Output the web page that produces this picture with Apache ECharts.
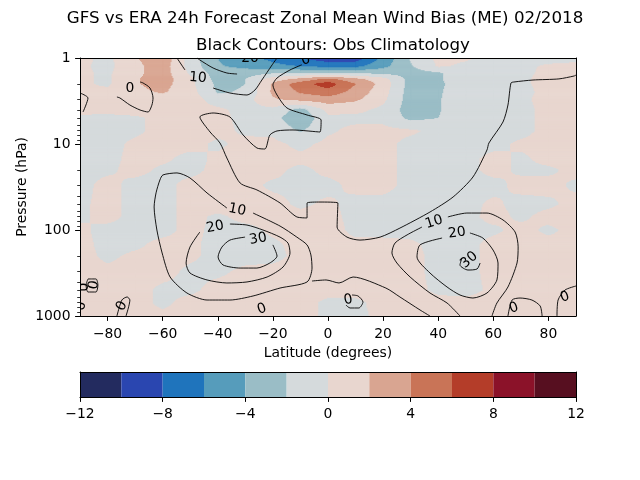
<!DOCTYPE html>
<html><head><meta charset="utf-8">
<script src="https://cdn.jsdelivr.net/npm/echarts@6/dist/echarts.min.js"></script>
<style>html,body{margin:0;padding:0;background:#fff}#c{width:640px;height:480px}</style>
</head><body><div id="c"></div>
<script>
// ---------- grid of bias values (m/s), latitude columns x pressure rows ----------
const lats = [-90,-80,-70,-60,-50,-40,-30,-20,-10,0,10,20,30,40,50,60,70,80,90];
const levels = [1,1.25,1.5,1.75,2,2.5,3,4,5,7,10,15,20,30,50,70,100,150,200,300,500,700,1000];
const b1    = [0.5,-0.5,1.8,3.5,-1,-4,-5.5,-6.5,-7.8,-9.5,-9.2,-5.5,-1.8,0.5,0.2,-0.5,-0.5,-0.5,-0.3];
const b1_25 = [0.3,-0.5,1.5,3,-0.8,-3.8,-4.5,-5.5,-6,-6.5,-6.5,-4.5,-2.2,0.2,-0.3,-0.5,-0.3,0.2,0.3];
const b1_5  = [0.3,-0.3,1.5,3,-0.3,-3,-3,-2.2,-2,-2.1,-2.1,-2.5,-2.8,-2.3,-0.5,-0.5,-0.3,0.3,0.3];
const b1_75 = [0.3,-0.3,1.8,3,0.5,-2.8,-2,1,2.5,4.5,2.5,0.8,-2.8,-2.3,-0.5,-0.5,-0.3,0.5,0.5];
const b2    = [0.3,-0.3,1.8,2.8,0.5,-2.5,-2,2.3,5.2,7,4,1.2,-2.8,-2.5,-0.5,-0.5,-0.3,0.5,0.5];
const b2_5  = [0.5,0.5,1.5,2.2,0.8,-2.2,-1.8,2.4,4.2,5.2,3.2,0.8,-3,-2.3,-0.5,-0.5,-0.5,0.5,0.5];
const b3    = [0.5,0.5,0.8,1,0.8,-0.8,-0.8,1.8,2.8,3.2,2.4,0.5,-3,-2.2,-0.5,-0.5,-0.3,0.5,0.5];
const b4    = [0.5,0.5,0.8,0.8,0.5,0.3,-0.5,-0.5,-2.8,0.5,0.5,-0.5,-3,-2.2,-0.5,-0.5,-0.5,0.5,0.5];
const b5    = [-0.3,-0.5,-0.3,0.5,0.5,0.5,-0.5,-1.2,-3.8,-0.3,-0.5,-0.5,-2.5,-2,-0.5,-0.5,-0.5,0.5,0.3];
const b7    = [-0.5,-0.5,-0.3,0.5,0.5,0.5,-0.3,-0.5,-2.2,-0.3,0.5,0.5,0.3,-0.5,-0.5,-0.5,-0.5,0.5,0.5];
const b10   = [-0.5,-0.5,0.3,0.5,0.5,-0.3,0.5,0.5,-0.5,0.5,0.5,0.5,-0.5,-0.5,-0.5,-0.5,0.3,0.5,0.5];
const b15   = [-0.5,-0.5,0.5,0.3,-0.5,0.3,0.8,0.8,0.5,0.8,0.8,0.5,-0.5,-0.5,-0.5,0.5,-0.3,0.5,0.5];
const b20   = [-0.5,-0.3,0.5,-0.3,-0.5,0.5,0.8,0.5,-0.5,0.5,0.8,0.5,-0.5,-0.5,-0.5,0.5,-0.3,-0.3,0.5];
const b30   = [-0.5,0.5,-0.5,-0.5,0.5,0.5,0.5,-0.3,-0.3,-0.5,0.5,0.5,-0.5,-0.5,-0.5,-0.5,0.5,0.5,-0.3];
const b50   = [-0.3,0.5,-0.5,-0.5,0.5,0.8,0.5,0.5,-0.3,0.3,-0.5,-0.5,-0.5,-0.5,-0.5,0.3,-0.5,-0.3,0.5];
const b70   = [-0.3,0.5,-0.5,-0.5,0.5,-0.3,0.5,0.5,0.5,0.5,-0.5,-0.5,-0.5,-0.5,-0.5,0.5,-0.3,0.5,0.5];
const b100  = [0.3,-0.5,-0.5,-0.5,0.5,-0.5,-0.5,0.3,0.5,0.8,-0.5,-0.5,-0.5,-0.5,-0.5,-0.3,0.5,-0.3,0.5];
const b150  = [0.5,-0.5,-0.3,0.5,0.3,-0.5,-0.5,-0.3,0.5,0.8,0.5,0.5,0.3,-0.5,-0.5,0.5,0.5,0.5,0.3];
const b200  = [0.5,-0.3,0.3,0.5,0.3,-0.5,-0.5,-0.5,0.5,0.8,0.5,0.5,0.5,-0.5,-0.5,0.5,0.5,0.5,0.5];
const b300  = [0.5,0.3,0.5,0.5,-0.3,-0.3,0.3,0.5,0.5,0.5,0.5,0.5,0.5,-0.5,-0.5,0.5,0.5,0.3,0.5];
const b500  = [0.5,0.5,0.5,-0.3,-0.3,0.5,0.5,0.5,0.5,0.5,0.5,0.5,0.5,-0.3,-0.5,0.3,0.5,0.5,0.5];
const b700  = [0.5,0.5,0.5,-0.3,0.5,0.5,0.5,0.5,0.5,-0.3,-0.3,0.5,0.5,0.5,0.5,0.5,0.5,0.5,0.5];
const b1000 = [0.5,0.5,0.5,0.3,0.5,0.5,0.5,0.5,0.5,-0.3,-0.3,0.3,0.5,0.5,0.5,0.5,0.5,0.5,0.5];
const biasRows = [b1,b1_25,b1_5,b1_75,b2,b2_5,b3,b4,b5,b7,b10,b15,b20,b30,b50,b70,b100,b150,b200,b300,b500,b700,b1000];

// ---------- colour levels ----------
const cbLevels = [-12,-10,-8,-6,-4,-2,0,2,4,6,8,10,12];
const cbColors = ['#232b5f','#2a46b0','#1f74bc','#569cbb','#9abdc6','#d5dadc','#e8d6cf','#d9a591','#c97457','#b43d29','#8b1229','#570f20'];
const cbTicks = [-12,-8,-4,0,4,8,12];
const latTicks = [-80,-60,-40,-20,0,20,40,60,80];
const pMajor = [1,10,100,1000];
const pMinor = [2,3,4,5,6,7,8,9,20,30,40,50,60,70,80,90,200,300,400,500,600,700,800,900];

// ---------- climatology contours [lat, hPa] ----------
const cSH10 = [[-27.2,63.5],[-17.4,90],[-11.3,121],[-7.6,149],[-6.2,195],[-5.8,277],[-7.6,402],[-17.4,473],[-27.2,585],[-35.6,652],[-43.9,652],[-51.2,540],[-57.3,352],[-60.2,185],[-62.1,100],[-63.1,54],[-62.4,37],[-61,26.2],[-59.9,22.9],[-54.8,21.7],[-50.1,24.8],[-43.9,37.1],[-36.7,55.5]];
const cSH20 = [[-35.6,85.2],[-29.4,87.6],[-23.6,100],[-17.4,121],[-14.5,142],[-13.8,185],[-16.3,269],[-22.1,352],[-29.4,402],[-36.7,413],[-43.9,381],[-50.1,316],[-51.5,242],[-50.1,158],[-46.5,105.5]];
const cSH30 = [[-20,149],[-18.5,201],[-21.1,242],[-25.8,277],[-31.9,277],[-38.1,255],[-39.9,206],[-38.5,158],[-35.6,131],[-30.1,121]];
const cNH10a = [[43.5,70.5],[50.4,63.5],[57.7,63.5],[63.5,76.4],[67.9,105.5],[69,157],[68.6,242],[65.3,460],[61.3,706],[59.5,1000]];
const cNH10b = [[34.1,92.4],[28.7,114],[24.3,142],[23.2,185],[25,242],[29.8,352],[37,540],[43.2,706],[47.9,1000]];
const cNH20 = [[51.5,108.3],[56.2,124],[59.9,171],[61.7,242],[61.3,381],[57.7,540],[52.6,618],[47.9,570],[43.2,460],[37,316],[32.3,206],[33.4,149],[41.4,124]];
const cNH30 = [[48.6,212],[47.9,255],[50.8,292],[54.1,284],[55.2,242]];
const cTrop = [[-5.8,392],[-0.7,381],[4,413],[9.1,352],[21,473],[26.1,601],[33.4,851],[37,1000]];
const cZero = [[-9.5,1.2],[-13.8,1.379],[-18.5,1.709],[-20,2.061],[-18.5,2.693],[-14.9,3.81],[-7.6,4.6],[-2.5,5.26],[-2.9,7.25],[-12.7,6.87],[-18.5,7.05],[-21.1,7.86],[-22.9,11.43],[-25.8,11.13],[-30.8,7.86],[-35.6,4.853],[-41.7,4.36],[-46.5,4.853],[-42.8,7.25],[-39.2,9.73],[-36.7,14.55],[-31.9,28.4],[-25.8,34.2],[-17.4,48.5],[-11.3,70.5],[-7.6,72.4],[-7.6,48.5],[-2.9,47.3],[3.6,48.5],[3.3,92.4],[6.9,121],[11.6,131],[18.9,121],[26.1,95],[37,61.8],[45.4,41.3],[52.6,24.2],[57.7,11.73],[58.4,9.73],[63.5,5.55],[65.3,3.52],[66.4,1.953],[67.5,1.901],[74.4,1.803],[83.8,1.75],[89.3,1.619],[90,1.58]];
const c10topA = [[-41.7,2.233],[-35.6,2.552],[-29.4,2.693],[-26.5,2.356],[-24,1.803],[-20.3,1.206],[-18.5,1]];
const c10topB = [[-51.9,1.379],[-54.8,1]];
const c20top = [[-47.5,1],[-46.5,1.055],[-41.7,1.307],[-36.7,1.494],[-33,1.535]];
const c0left = [[-76.6,2.841],[-75.5,2.917],[-71.9,3.52],[-68.2,4.024],[-65.3,4.246],[-63.9,3.52],[-63.5,2.917],[-64.6,2.233],[-67.1,1.953],[-68.2,1.901]];
const cEdge = [[-90,2.552],[-87.1,2.917],[-88.9,4.246]];
const cL1 = [[-87.1,371],[-84.2,371],[-83.5,436],[-84.2,526],[-87.1,526],[-87.8,436],[-87.1,371]];
const cL3 = [[-76.6,1000],[-74.8,652],[-72.9,601],[-71.9,652],[-73.3,1000]];
const cL5 = [[8.7,570],[10.9,585],[12.7,687],[11.2,807],[8,807],[6.5,745]];
const cL6 = [[65.3,1000],[66.8,652],[69.7,618],[74,652],[77,765],[77.7,1000]];
const cL7 = [[83.1,1000],[83.5,652],[86,499],[90,448]];
const contourLines = [cSH10,cSH20,cSH30,cNH10a,cNH10b,cNH20,cNH30,cTrop,cZero,c10topA,c10topB,c20top,c0left,cEdge,cL1,cL3,cL5,cL6,cL7];
// [text, lat, hPa, rotation deg]
const contourLabels = [
  ['10',-33,58.4,-11],['20',-41,92.4,10],['30',-25.4,127,10],
  ['10',38.5,80.7,18],['20',46.8,108.3,8],['30',51.2,223,40],
  ['0',-8,1.055,15],['10',-47.2,1.709,-5],['20',-28.3,1.0,0],['0',-71.9,2.233,0],
  ['0',-88.5,460,90],['0',-84.9,436,80],['0',-89.6,765,90],['0',-74.8,765,60],
  ['0',-24,829,20],['0',7.3,652,10],['0',67.5,807,20],['0',86,601,20]
];

const FONT = 'DejaVu Sans';
function binIndex(v){
  const k = Math.floor((v - cbLevels[0]) / (cbLevels[1] - cbLevels[0]));
  return Math.max(0, Math.min(cbColors.length - 1, k));
}
const cells = [];
for (let j = 0; j < levels.length - 1; j++)
  for (let i = 0; i < lats.length - 1; i++)
    cells.push([(lats[i] + lats[i+1]) / 2, Math.sqrt(levels[j] * levels[j+1]), i, j]);

function renderField(params, api){
  const i = api.value(2), j = api.value(3);
  const a = api.coord([lats[i], levels[j]]), b = api.coord([lats[i+1], levels[j+1]]);
  const x0 = a[0], y0 = a[1], w = b[0] - a[0], h = b[1] - a[1];
  const r0 = biasRows[j], r1 = biasRows[j+1];
  const v00 = r0[i], v10 = r0[i+1], v01 = r1[i], v11 = r1[i+1];
  const nx = Math.max(1, Math.round(Math.abs(w))), ny = Math.max(1, Math.round(Math.abs(h)));
  const dx = w / nx, dy = h / ny;
  const children = [];
  for (let r = 0; r < ny; r++){
    const t = (r + 0.5) / ny;
    const L = v00 + (v01 - v00) * t, R = v10 + (v11 - v10) * t;
    let start = 0, cur = binIndex(L + (R - L) * (0.5 / nx));
    for (let c = 1; c <= nx; c++){
      const bi = c < nx ? binIndex(L + (R - L) * ((c + 0.5) / nx)) : -1;
      if (bi !== cur){
        children.push({type:'rect', shape:{x:x0 + start*dx, y:y0 + r*dy, width:(c-start)*dx + 0.6, height:dy + 0.6},
          style:{fill:cbColors[cur]}});
        start = c; cur = bi;
      }
    }
  }
  return {type:'group', children};
}

const tickStyle = {color:'#000', fontFamily:FONT, fontSize:13.9};
const fmt = v => (v < 0 ? '\u2212' + (-v) : String(v));

const series = [{
  type:'custom', xAxisIndex:0, yAxisIndex:0, data:cells, renderItem:renderField,
  encode:{x:0, y:1}, clip:true, silent:true, z:1
}];
contourLines.forEach(d => series.push({
  type:'line', xAxisIndex:0, yAxisIndex:0, data:d, symbol:'none', showSymbol:false, smooth:0.25,
  lineStyle:{color:'#000', width:0.9}, silent:true, z:3, clip:true
}));
series.push({
  type:'custom', xAxisIndex:0, yAxisIndex:0, clip:true, silent:true, z:4,
  data:contourLabels.map(l => [l[1], l[2]]), encode:{x:0, y:1},
  renderItem:function(params, api){
    const l = contourLabels[params.dataIndex];
    const p = api.coord([l[1], l[2]]);
    return {type:'text', x:p[0], y:p[1], rotation:l[3] * Math.PI / 180,
      style:{text:l[0], fill:'#000', font:'13.9px "' + FONT + '"', align:'center', verticalAlign:'middle'}};
  }
});
series.push({
  type:'custom', xAxisIndex:2, yAxisIndex:3, silent:true, z:1,
  data:cbColors.map((c, k) => [cbLevels[k], cbLevels[k+1], k]), encode:{x:[0,1]},
  renderItem:function(params, api){
    const a = api.coord([api.value(0), 0]), b = api.coord([api.value(1), 1]);
    return {type:'rect', shape:{x:a[0], y:b[1], width:b[0]-a[0], height:a[1]-b[1]},
      style:{fill:cbColors[api.value(2)]}};
  }
});

const lineOnly = {show:true, onZero:false, lineStyle:{color:'#000', width:1}};
const noLine = {show:false, onZero:false};
const option = {
  animation:false,
  backgroundColor:'#fff',
  title:[
    {text:'GFS vs ERA 24h Forecast Zonal Mean Wind Bias (ME) 02/2018', left:320, textAlign:'center', top:5,
      textStyle:{fontFamily:FONT, fontSize:16.7, fontWeight:'normal', color:'#000'}},
    {text:'Black Contours: Obs Climatology', left:328, textAlign:'center', top:32,
      textStyle:{fontFamily:FONT, fontSize:16.7, fontWeight:'normal', color:'#000'}}
  ],
  grid:[
    {left:80, top:58, width:496, height:258, show:false, outerBoundsMode:'none', containLabel:false},
    {left:80, top:372, width:496, height:25, show:false, outerBoundsMode:'none', containLabel:false}
  ],
  xAxis:[
    {type:'value', gridIndex:0, min:-90, max:90, position:'bottom', z:5,
      axisLine:lineOnly, splitLine:{show:false},
      axisTick:{show:true, customValues:latTicks, length:4.9, lineStyle:{color:'#000', width:1}},
      axisLabel:Object.assign({customValues:latTicks, margin:11.5, formatter:fmt}, tickStyle),
      name:'Latitude (degrees)', nameLocation:'middle', nameGap:30, nameMoveOverlap:false, nameTextStyle:tickStyle},
    {type:'value', gridIndex:0, min:-90, max:90, position:'top', z:5, axisLine:lineOnly,
      axisTick:{show:false}, axisLabel:{show:false}, splitLine:{show:false}},
    {type:'value', gridIndex:1, min:-12, max:12, interval:4, position:'bottom', z:5,
      axisLine:lineOnly, splitLine:{show:false},
      axisTick:{show:true, length:4.9, lineStyle:{color:'#000', width:1}},
      axisLabel:Object.assign({margin:10.5, formatter:fmt}, tickStyle)},
    {type:'value', gridIndex:1, min:-12, max:12, position:'top', z:5, axisLine:lineOnly,
      axisTick:{show:false}, axisLabel:{show:false}, splitLine:{show:false}}
  ],
  yAxis:[
    {type:'log', logBase:10, gridIndex:0, min:1, max:1000, inverse:true, position:'left', z:5,
      axisLine:lineOnly, splitLine:{show:false}, minorTick:{show:false},
      axisTick:{show:true, customValues:pMajor, length:4.9, lineStyle:{color:'#000', width:1}},
      axisLabel:Object.assign({customValues:pMajor, margin:9.5, formatter:v => String(Math.round(v))}, tickStyle),
      name:'Pressure (hPa)', nameLocation:'middle', nameGap:51, nameRotate:90, nameMoveOverlap:false, nameTextStyle:tickStyle},
    {type:'log', logBase:10, gridIndex:0, min:1, max:1000, inverse:true, position:'left', offset:0, z:5,
      axisLine:noLine, splitLine:{show:false}, axisLabel:{show:false},
      axisTick:{show:true, customValues:pMinor, length:2.8, lineStyle:{color:'#000', width:0.8}}},
    {type:'log', logBase:10, gridIndex:0, min:1, max:1000, inverse:true, position:'right', z:5,
      axisLine:lineOnly, splitLine:{show:false}, axisLabel:{show:false}, axisTick:{show:false}},
    {type:'value', gridIndex:1, min:0, max:1, position:'left', z:5, axisLine:lineOnly,
      splitLine:{show:false}, axisLabel:{show:false}, axisTick:{show:false}},
    {type:'value', gridIndex:1, min:0, max:1, position:'right', z:5, axisLine:lineOnly,
      splitLine:{show:false}, axisLabel:{show:false}, axisTick:{show:false}}
  ],
  series:series
};
const chart = echarts.init(document.getElementById('c'), null, {renderer:'canvas'});
chart.setOption(option);
</script></body></html>
